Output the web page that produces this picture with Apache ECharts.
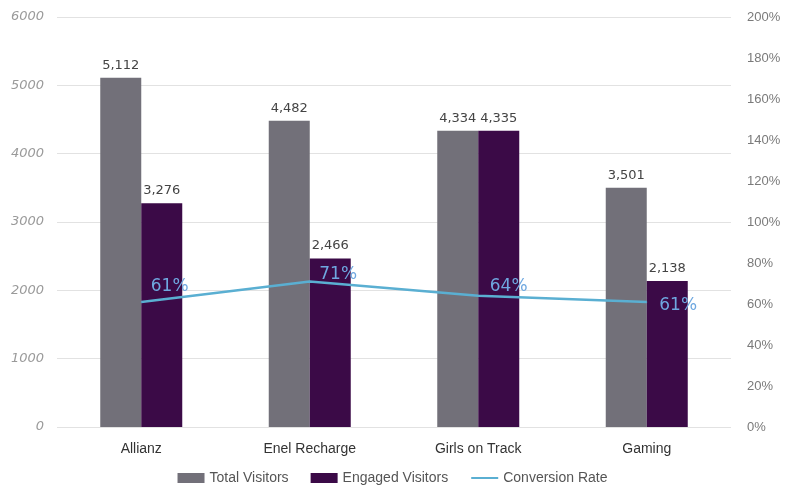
<!DOCTYPE html>
<html>
<head>
<meta charset="utf-8">
<script src="https://cdn.jsdelivr.net/npm/echarts@6/dist/echarts.min.js"></script>
<style>html,body{margin:0;padding:0;background:#fff}#c{width:785px;height:488px}</style>
</head>
<body>
<div id="c"></div>
<script>
var categories = ['Allianz', 'Enel Recharge', 'Girls on Track', 'Gaming'];
var totalVisitors = [5112, 4482, 4334, 3501];
var engagedVisitors = [3276, 2466, 4335, 2138];
var conversionRate = [61, 71, 64, 61];
var leftTicks = [0, 1000, 2000, 3000, 4000, 5000, 6000];
var rightTicks = [0, 20, 40, 60, 80, 100, 120, 140, 160, 180, 200];

var chart = echarts.init(document.getElementById('c'));
var fmt = function (v) { return v.toLocaleString('en-US'); };
var lineLabelOffsets = [[4, -15], [4, -7], [6, -9], [7, 4]];
chart.setOption({
  animation: false,
  textStyle: { fontFamily: 'Liberation Sans' },
  grid: { left: 57, right: 54, top: 17, bottom: 61 },
  legend: {
    top: 466,
    left: 'center',
    itemWidth: 27,
    itemHeight: 10,
    itemGap: 22,
    textStyle: { color: '#555', fontSize: 14 },
    data: [
      { name: 'Total Visitors', icon: 'rect' },
      { name: 'Engaged Visitors', icon: 'rect' },
      { name: 'Conversion Rate', itemStyle: { opacity: 0 } }
    ]
  },
  xAxis: {
    type: 'category',
    data: categories,
    axisLine: { show: false },
    axisTick: { show: false },
    axisLabel: { color: '#333', fontSize: 14, margin: 15 }
  },
  yAxis: [
    {
      type: 'value',
      min: leftTicks[0],
      max: leftTicks[leftTicks.length - 1],
      interval: 1000,
      axisLine: { show: false },
      axisTick: { show: false },
      splitLine: { lineStyle: { color: '#e2e2e2' } },
      axisLabel: { color: '#9a9a9a', fontSize: 13, fontStyle: 'italic', fontFamily: 'DejaVu Sans', margin: 13, formatter: function (v) { return String(v); } }
    },
    {
      type: 'value',
      min: rightTicks[0],
      max: rightTicks[rightTicks.length - 1],
      interval: 20,
      axisLine: { show: false },
      axisTick: { show: false },
      splitLine: { show: false },
      axisLabel: { color: '#7a7a7a', fontSize: 13, margin: 16, formatter: '{value}%' }
    }
  ],
  series: [
    {
      name: 'Total Visitors',
      type: 'bar',
      data: totalVisitors,
      barWidth: 41,
      barGap: '0%',
      itemStyle: { color: '#727079' },
      label: { show: true, position: 'top', color: '#444', fontSize: 13, fontFamily: 'DejaVu Sans', distance: 6, formatter: function (p) { return fmt(p.value); } }
    },
    {
      name: 'Engaged Visitors',
      type: 'bar',
      data: engagedVisitors,
      barWidth: 41,
      barGap: '0%',
      itemStyle: { color: '#3b0a47' },
      label: { show: true, position: 'top', color: '#444', fontSize: 13, fontFamily: 'DejaVu Sans', distance: 6, formatter: function (p) { return fmt(p.value); } }
    },
    {
      name: 'Conversion Rate',
      type: 'line',
      yAxisIndex: 1,
      data: conversionRate.map(function (v, i) {
        return { value: v, label: { offset: lineLabelOffsets[i] } };
      }),
      symbol: 'circle',
      symbolSize: 1,
      showSymbol: true,
      lineStyle: { color: '#5aafd2', width: 2.5 },
      itemStyle: { color: '#5aafd2' },
      label: {
        show: true,
        position: 'right',
        distance: 5,
        color: '#6fa8e0',
        fontSize: 17,
        fontFamily: 'DejaVu Sans',
        formatter: '{c}%'
      }
    }
  ]
});
</script>
</body>
</html>
